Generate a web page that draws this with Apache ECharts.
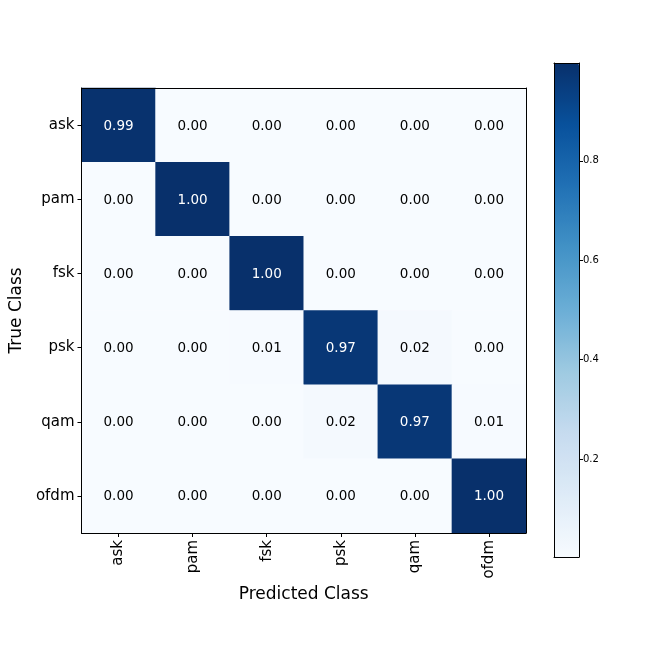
<!DOCTYPE html>
<html lang="en">
<head>
<meta charset="utf-8">
<title>Confusion Matrix</title>
<script src="https://cdn.jsdelivr.net/npm/echarts@6/dist/echarts.min.js"></script>
<style>
  html, body { margin: 0; padding: 0; background: #fff; }
  #chart { width: 648px; height: 648px; }
</style>
</head>
<body>
<div id="chart"></div>
<script type="text/javascript">
// class labels (rows = true, cols = predicted)
var classes = ['ask', 'pam', 'fsk', 'psk', 'qam', 'ofdm'];

// confusion matrix rows
var rowAsk  = [0.99, 0.00, 0.00, 0.00, 0.00, 0.00];
var rowPam  = [0.00, 1.00, 0.00, 0.00, 0.00, 0.00];
var rowFsk  = [0.00, 0.00, 1.00, 0.00, 0.00, 0.00];
var rowPsk  = [0.00, 0.00, 0.01, 0.97, 0.02, 0.00];
var rowQam  = [0.00, 0.00, 0.00, 0.02, 0.97, 0.01];
var rowOfdm = [0.00, 0.00, 0.00, 0.00, 0.00, 1.00];
var matrix = [rowAsk, rowPam, rowFsk, rowPsk, rowQam, rowOfdm];

// colorbar ticks and range
var cbarTicks = [0.2, 0.4, 0.6, 0.8];
var cbarMin = 0.003, cbarMax = 0.997;

var blues = ['#f7fbff', '#deebf7', '#c6dbef', '#9ecae1', '#6baed6',
             '#4292c6', '#2171b5', '#08519c', '#08306b'];

var cells = [];
matrix.forEach(function(row, i) {
  row.forEach(function(v, j) {
    cells.push({
      value: [j, i, v],
      label: { color: v > 0.5 ? '#ffffff' : '#000000' }
    });
  });
});

var chart = echarts.init(document.getElementById('chart'));
var font = 'DejaVu Sans';

// frame-only axis (top / right edges of the boxes)
function frameAxis(grid, pos, type, extra) {
  var a = {
    gridIndex: grid,
    type: type,
    position: pos,
    z: 10,
    axisLine: { show: true, onZero: false, lineStyle: { color: '#000', width: 1 } },
    axisTick: { show: false },
    axisLabel: { show: false },
    splitLine: { show: false }
  };
  return Object.assign(a, extra || {});
}

var option = {
  animation: false,
  backgroundColor: '#ffffff',
  textStyle: { fontFamily: font },
  grid: [
    { left: 81, top: 88, width: 445, height: 445 },
    { left: 554, top: 63, width: 25, height: 494 }
  ],
  xAxis: [
    {
      gridIndex: 0,
      type: 'category',
      data: classes,
      z: 10,
      name: 'Predicted Class',
      nameLocation: 'middle',
      nameGap: 52,
      nameTextStyle: { fontSize: 17, color: '#000', fontFamily: font },
      axisLine: { show: true, lineStyle: { color: '#000' } },
      axisTick: { show: true, alignWithLabel: true, length: 4, lineStyle: { color: '#000' } },
      axisLabel: { rotate: 90, fontSize: 15, color: '#000', margin: 7, fontFamily: font },
      splitLine: { show: false }
    },
    frameAxis(0, 'top', 'category', { data: classes }),
    frameAxis(1, 'bottom', 'value', { min: 0, max: 1 }),
    frameAxis(1, 'top', 'value', { min: 0, max: 1 })
  ],
  yAxis: [
    {
      gridIndex: 0,
      type: 'category',
      data: classes,
      inverse: true,
      z: 10,
      name: 'True Class',
      nameLocation: 'middle',
      nameGap: 54,
      nameRotate: 90,
      nameTextStyle: { fontSize: 17, color: '#000', fontFamily: font },
      axisLine: { show: true, lineStyle: { color: '#000' } },
      axisTick: { show: true, alignWithLabel: true, length: 4, lineStyle: { color: '#000' } },
      axisLabel: { fontSize: 15, color: '#000', margin: 7, fontFamily: font },
      splitLine: { show: false }
    },
    frameAxis(0, 'right', 'category', { data: classes, inverse: true }),
    {
      gridIndex: 1,
      type: 'value',
      position: 'right',
      min: cbarMin,
      max: cbarMax,
      z: 10,
      axisLine: { show: true, onZero: false, lineStyle: { color: '#000' } },
      axisTick: { show: true, length: 4, lineStyle: { color: '#000' },
        customValues: cbarTicks },
      axisLabel: { show: true, fontSize: 10, color: '#000', margin: 4, fontFamily: font,
        customValues: cbarTicks,
        formatter: function(v) { return v.toFixed(1); } },
      splitLine: { show: false }
    },
    frameAxis(1, 'left', 'value', { min: cbarMin, max: cbarMax })
  ],
  visualMap: {
    type: 'continuous',
    min: cbarMin,
    max: cbarMax,
    seriesIndex: 0,
    calculable: false,
    realtime: false,
    showLabel: false,
    text: null,
    left: 554,
    top: 63,
    itemWidth: 25,
    itemHeight: 494,
    padding: 0,
    inRange: { color: blues },
    textStyle: { color: 'transparent' }
  },
  series: [
    {
      type: 'heatmap',
      xAxisIndex: 0,
      yAxisIndex: 0,
      data: cells,
      label: {
        show: true,
        fontSize: 13.5,
        fontFamily: font,
        offset: [0, 1],
        formatter: function(p) { return p.value[2].toFixed(2); }
      }
    }
  ]
};

chart.setOption(option);
</script>
</body>
</html>
